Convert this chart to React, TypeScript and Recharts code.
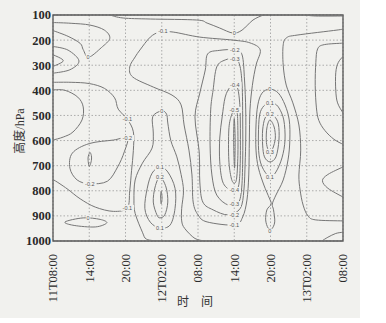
import React from "react";
import {
  ComposedChart,
  Line,
  Scatter,
  XAxis,
  YAxis,
  CartesianGrid,
  ReferenceArea,
} from "recharts";

// time axis: hours after 11T08:00, pressure axis: hPa
const TIME_TICKS = [0, 6, 12, 18, 24, 30, 36, 42, 48];
const TIME_LABELS = ["11T08:00", "14:00", "20:00", "12T02:00", "08:00", "14:00", "20:00", "13T02:00", "08:00"];
const PRESSURE_TICKS = [100, 200, 300, 400, 500, 600, 700, 800, 900, 1000];

type Pt = [number, number];

// --- contour lines, [time, pressure] ---
const wedgeTop: Pt[] = [[0, 130], [3, 133], [6.1, 140], [8.5, 160], [9.4, 193], [8, 230], [5.9, 268], [5, 238], [4.5, 213], [2.5, 185], [0, 162]];
const leftLoopA: Pt[] = [[0, 225], [2.5, 240], [4.3, 283], [2.8, 318], [0, 332]];
const leftLoopB: Pt[] = [[0, 258], [1.7, 282], [0, 305]];
const leftMinus1: Pt[] = [[0, 368], [3, 368], [6, 373], [8.5, 392], [10.2, 430], [10.8, 475], [12.3, 515], [13.3, 565], [13.3, 640], [13.0, 720], [12.7, 800], [12.3, 868], [10, 882], [7, 865], [4.5, 832], [2.5, 795], [1, 770], [0, 755]];
const leftLobe: Pt[] = [[0, 398], [2, 400], [4.1, 427], [5, 466], [4.8, 518], [3.3, 566], [1.7, 586], [0, 598]];
const leftMinus2: Pt[] = [[12.3, 590], [10, 598], [6, 612], [3.2, 650], [2.8, 710], [4, 757], [6.1, 772], [9, 762], [10.7, 705], [11.8, 645]];
const leftCore: Pt[] = [[6.1, 648], [5.8, 670], [6.0, 703], [6.35, 680], [6.35, 660]];
const bottomLobe: Pt[] = [[2, 924], [5, 908], [7.8, 914], [8.9, 928], [7, 944], [3.5, 938]];

const topZero: Pt[] = [[9.4, 100], [11.6, 112], [16.1, 116], [23.8, 120], [25.5, 132], [27.6, 152], [29.8, 172], [31.3, 160], [33.1, 120], [34.8, 100]];
const topRight: Pt[] = [[41.8, 100], [43.5, 104], [48, 104]];

const neg1: Pt[] = [[16.1, 188], [17.7, 168], [19.9, 168], [24.3, 188], [29.8, 200], [32.6, 211], [34.3, 239], [33.6, 300], [33.0, 380], [32.6, 478], [32.5, 598], [32.4, 737], [32.1, 837], [31.4, 904], [30.1, 936], [25.5, 924], [24, 896], [23.2, 845], [23, 737], [22.5, 638], [21.7, 538], [21.2, 458], [19.7, 419], [16.6, 387], [13.2, 347], [12.7, 307], [13.6, 267], [14.4, 239]];
const neg2: Pt[] = [[30.1, 239], [31.3, 259], [31.7, 359], [31.9, 478], [31.9, 598], [31.8, 690], [31.6, 797], [31, 870], [29, 896], [26.5, 876], [24.8, 845], [24.3, 765], [24.2, 645], [23.5, 506], [24.3, 411], [25.2, 319], [25.6, 255], [27.5, 241]];
const neg3: Pt[] = [[30.1, 275], [30.9, 299], [31.3, 379], [31.4, 518], [31.4, 677], [31.2, 797], [30.6, 850], [29, 857], [27.1, 817], [26.3, 737], [26, 618], [26.1, 478], [26.5, 399], [27.1, 307], [28.5, 279]];
const neg4: Pt[] = [[30.1, 379], [30.6, 395], [30.9, 450], [31, 518], [31, 677], [30.8, 769], [30.3, 797], [29.3, 797], [28.1, 765], [27.6, 685], [27.6, 590], [28, 506], [28.5, 427], [29.3, 387]];
const neg5: Pt[] = [[30.1, 478], [30.5, 492], [30.6, 560], [30.6, 660], [30.4, 749], [30, 770], [29.5, 749], [29.1, 677], [29.1, 558], [29.5, 502]];
const negCore: Pt[] = [[30, 512], [30.15, 600], [30.05, 710], [29.9, 600]];

const zeroArch: Pt[] = [[17.5, 1000], [15.5, 993], [14.8, 965], [13.6, 890], [13.4, 837], [13.6, 757], [14.8, 690], [16.4, 630], [16.6, 570], [16.5, 505], [18, 482], [18.8, 495], [19, 530], [19.5, 600], [20.5, 665], [21.2, 735], [21.6, 800], [21.3, 870], [21.3, 920], [21.8, 950], [23.5, 990], [25.2, 1000]];
const pos1Night: Pt[] = [[17.7, 705], [16.4, 730], [15.6, 790], [15.2, 870], [16.1, 925], [17.7, 948], [19.4, 936], [20.2, 870], [20.2, 790], [19, 725]];
const pos2Night: Pt[] = [[17.7, 745], [16.9, 785], [16.6, 845], [17.2, 896], [17.7, 908], [18.5, 896], [19, 845], [18.7, 785]];
const pos3Night: Pt[] = [[17.9, 802], [17.8, 828], [17.9, 852], [18.05, 828]];

const zeroDrop: Pt[] = [[35.9, 395], [34.6, 411], [33.9, 458], [33.6, 538], [33.6, 638], [34, 709], [34.9, 777], [35.8, 829], [36.1, 853], [35.4, 876], [35.2, 916], [35.6, 948], [36.2, 952], [36.7, 924], [36.5, 876], [36.3, 853], [36.9, 817], [38.1, 757], [38.9, 677], [39.2, 598], [39.1, 518], [38.4, 458], [37.3, 411]];
const pos1Eve: Pt[] = [[35.9, 450], [34.9, 462], [34.2, 498], [34.0, 578], [34.1, 657], [34.7, 709], [35.9, 745], [36.9, 725], [37.9, 669], [38.4, 598], [38.2, 518], [37.4, 470], [36.6, 452]];
const pos2Eve: Pt[] = [[35.9, 494], [35.1, 510], [34.7, 558], [34.7, 618], [35.0, 665], [35.9, 685], [36.9, 665], [37.4, 598], [37.3, 534], [36.6, 502]];
const pos3Eve: Pt[] = [[35.9, 518], [35.4, 550], [35.3, 598], [35.5, 630], [35.9, 646], [36.4, 630], [36.8, 590], [36.6, 546]];

const rightC1: Pt[] = [[48, 156], [47, 160], [40.4, 180], [38.7, 190], [38.1, 219], [38.1, 299], [38.6, 379], [39.7, 450], [40.7, 538], [41, 638], [40.7, 737], [40.9, 797], [41.4, 857], [42.2, 900], [43.5, 916], [48, 920]];
const rightC2: Pt[] = [[48, 212], [44.9, 218], [43.8, 235], [43.5, 290], [43.4, 380], [43.6, 470], [44.0, 520], [45.0, 560], [46.5, 595], [48, 615]];
const rightC3: Pt[] = [[48, 265], [47.2, 290], [46.8, 330], [46.8, 400], [47.1, 450], [48, 490]];
const rightC4: Pt[] = [[48, 705], [45.5, 735], [44.6, 760], [45.5, 790], [48, 825]];
const rightC5: Pt[] = [[44.5, 1000], [45.5, 985], [46.8, 970], [48, 965]];

// contour value labels
const LABEL_TEXT = ["-0.1", "0", "0", "-0.2", "-0.3", "-0.4", "-0.5", "-0.4", "-0.3", "-0.2", "-0.1", "0", "0.1", "0.2", "0.3", "0.1", "0", "0", "0.1", "0.2", "0.1", "-0.1", "-0.2", "-0.2", "-0.1", "0"];
const LABEL_TIME = [18.2, 30, 5.8, 30.1, 30.1, 30.1, 30, 30, 30, 30, 30, 35.9, 35.9, 35.9, 35.9, 35.9, 35.9, 18, 17.7, 17.7, 17.7, 12.3, 12.3, 6.1, 12.3, 5.8];
const LABEL_PRES = [166, 172, 267, 239, 275, 379, 478, 797, 853, 896, 936, 395, 450, 494, 645, 745, 962, 482, 705, 745, 948, 515, 590, 772, 868, 908];

const OPEN = [wedgeTop, leftLoopA, leftLoopB, leftMinus1, leftLobe, topZero, topRight, zeroArch, rightC1, rightC2, rightC3, rightC4, rightC5];
const CLOSED = [leftMinus2, leftCore, bottomLobe, neg1, neg2, neg3, neg4, neg5, negCore, pos1Night, pos2Night, pos3Night, zeroDrop, pos1Eve, pos2Eve, pos3Eve];

const BG = "#f1f1ee";
const LINE = "#767676";

// catmull-rom spline through the points (open or closed)
function makeCurve(closed: boolean) {
  return (context: any) => {
    let pts: number[][] = [];
    return {
      areaStart() {},
      areaEnd() {},
      lineStart() {
        pts = [];
      },
      point(x: number, y: number) {
        pts.push([+x, +y]);
      },
      lineEnd() {
        const n = pts.length;
        if (!n) return;
        const get = (i: number) => (closed ? pts[(i + n) % n] : pts[Math.max(0, Math.min(n - 1, i))]);
        context.moveTo(pts[0][0], pts[0][1]);
        const segs = closed ? n : n - 1;
        const k = 1 / 6;
        for (let i = 0; i < segs; i++) {
          const p0 = get(i - 1), p1 = get(i), p2 = get(i + 1), p3 = get(i + 2);
          context.bezierCurveTo(
            p1[0] + (p2[0] - p0[0]) * k, p1[1] + (p2[1] - p0[1]) * k,
            p2[0] - (p3[0] - p1[0]) * k, p2[1] - (p3[1] - p1[1]) * k,
            p2[0], p2[1]
          );
        }
        if (closed) context.closePath();
      },
    };
  };
}
const openCurve = makeCurve(false);
const closedCurve = makeCurve(true);

const toRows = (pts: Pt[]) => pts.map(([t, p]) => ({ t, p }));
const labelRows = LABEL_TEXT.map((text, i) => ({ t: LABEL_TIME[i], p: LABEL_PRES[i], text }));

const renderLabel = (props: any) => {
  const { cx, cy, payload } = props;
  if (cx == null || cy == null) return <g />;
  const w = payload.text.length * 3 + 1.5;
  return (
    <g>
      <rect x={cx - w / 2} y={cy - 3} width={w} height={6} fill={BG} stroke="none" />
      <text
        x={cx}
        y={cy}
        dy="0.35em"
        textAnchor="middle"
        fontSize={5.5}
        fill="#555555"
        stroke="none"
        fontFamily="Liberation Sans, Arial"
      >
        {payload.text}
      </text>
    </g>
  );
};

const TimeTick = (props: any) => {
  const { x, y, payload } = props;
  const i = TIME_TICKS.indexOf(payload.value);
  return (
    <text
      x={x}
      y={y + 5}
      transform={`rotate(-90, ${x}, ${y + 5})`}
      textAnchor="end"
      dy="0.35em"
      fontSize={12.5}
      fill="#2a2a2a"
      fontFamily="Liberation Serif, serif"
    >
      {TIME_LABELS[i]}
    </text>
  );
};

export default function App() {
  return (
    <div style={{ position: "relative", width: 386, height: 323, background: "#fff", overflow: "hidden" }}>
      <style>{"body{margin:0}"}</style>
      <div style={{ position: "absolute", left: 0, top: 0, width: 360, height: 318, background: BG }} />
      <div style={{ position: "absolute", left: 0, top: 0 }}>
        <ComposedChart width={386} height={323} margin={{ top: 15, right: 43, left: 8, bottom: 22 }}>
          <CartesianGrid stroke="#9a9a9a" strokeDasharray="1.5 2" strokeWidth={0.8} />
          <XAxis
            dataKey="t"
            type="number"
            domain={[0, 48]}
            ticks={TIME_TICKS}
            allowDataOverflow
            height={60}
            tickLine={false}
            axisLine={false}
            tick={<TimeTick />}
            interval={0}
          />
          <YAxis
            dataKey="p"
            type="number"
            reversed
            domain={[100, 1000]}
            ticks={PRESSURE_TICKS}
            allowDataOverflow
            width={45}
            tickLine={false}
            axisLine={false}
            tickSize={0}
            tickMargin={2}
            interval={0}
            tick={{ fontSize: 12.5, fill: "#2a2a2a", fontFamily: "Liberation Serif, serif", fontWeight: "bold" }}
          />
          {OPEN.map((pts, i) => (
            <Line
              key={`o${i}`}
              data={toRows(pts)}
              dataKey="p"
              type={openCurve as any}
              stroke={LINE}
              strokeWidth={1}
              dot={false}
              activeDot={false}
              isAnimationActive={false}
            />
          ))}
          {CLOSED.map((pts, i) => (
            <Line
              key={`c${i}`}
              data={toRows(pts)}
              dataKey="p"
              type={closedCurve as any}
              stroke={LINE}
              strokeWidth={1}
              dot={false}
              activeDot={false}
              isAnimationActive={false}
            />
          ))}
          <ReferenceArea x1={0} x2={48} y1={100} y2={1000} fill="none" stroke="#555" strokeWidth={1.3} />
          <Scatter data={labelRows} dataKey="p" fill="#555555" shape={renderLabel} isAnimationActive={false} />
        </ComposedChart>
      </div>
      <svg width={386} height={323} style={{ position: "absolute", left: 0, top: 0, pointerEvents: "none" }}>
        <text
          x={20}
          y={131}
          transform="rotate(-90, 20, 131)"
          textAnchor="middle"
          dy="0.35em"
          fontSize={12}
          fill="#333"
          fontFamily="Liberation Serif, Noto Sans CJK SC, serif"
        >
          高度/hPa
        </text>
        <text x={195} y={302} textAnchor="middle" dy="0.35em" fontSize={12} fill="#333" fontFamily="Noto Sans CJK SC, sans-serif">
          时　间
        </text>
      </svg>
    </div>
  );
}
